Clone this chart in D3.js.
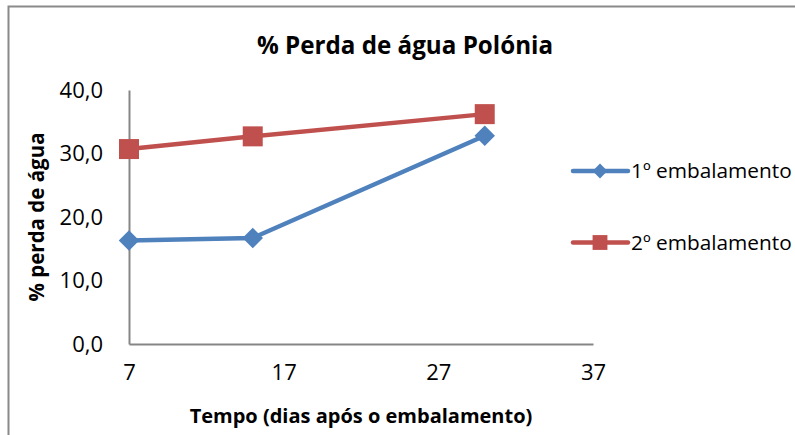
<!DOCTYPE html>
<html>
<head>
<meta charset="utf-8">
<script src="https://cdn.jsdelivr.net/npm/d3@7"></script>
<style>
  body { margin: 0; background: #fff; }
  svg { display: block; font-family: "Open Sans", sans-serif; }
  .axis path { stroke: #868686; stroke-width: 2; }
  .axis line { display: none; }
</style>
</head>
<body>
<div id="chart"></div>
<script>
  //--------------------------- DATA ---------------------------//
  const days = [7, 15, 30];
  const serie1 = [16.3, 16.7, 32.8];   // 1º embalamento
  const serie2 = [30.7, 32.7, 36.2];   // 2º embalamento
  const seriesNames = ["1º embalamento", "2º embalamento"];
  const xTicks = [7, 17, 27, 37];
  const yTicks = [0, 10, 20, 30, 40];

  //--------------------------- SVG ----------------------------//
  const W = 795, H = 435;
  const svg = d3.select("#chart").append("svg")
    .attr("width", W)
    .attr("height", H);

  // chart frame (top + left only visible)
  svg.append("path")
    .attr("d", "M8.5,440 V6.5 H795")
    .attr("fill", "none")
    .attr("stroke", "#8a8a8a")
    .attr("stroke-width", 2);

  // shrink/grow a text's font so it spans roughly the width seen in the picture
  function fit(sel, target) {
    const fs = +sel.attr("font-size");
    const w = sel.node().getComputedTextLength();
    sel.attr("font-size", (fs * target / w).toFixed(1));
    return sel;
  }

  //-------------------------- SCALES --------------------------//
  const x = d3.scaleLinear().domain([7, 37]).range([129, 593]);
  const y = d3.scaleLinear().domain([0, 40]).range([344, 90]);

  //--------------------------- AXES ---------------------------//
  const fmt = v => d3.format(".1f")(v).replace(".", ",");

  const styleTicks = g => g.selectAll("text")
    .attr("font-family", "Open Sans")
    .attr("font-size", 22)
    .attr("fill", "#000");

  svg.append("g")
    .attr("class", "axis axis-x")
    .attr("transform", "translate(0,344)")
    .call(d3.axisBottom(x).tickValues(xTicks).tickSize(0).tickPadding(20).tickSizeOuter(0))
    .call(styleTicks);

  svg.append("g")
    .attr("class", "axis axis-y")
    .attr("transform", "translate(129,0)")
    .call(d3.axisLeft(y).tickValues(yTicks).tickFormat(fmt).tickSize(0).tickPadding(26).tickSizeOuter(0))
    .call(styleTicks);

  //-------------------------- TITLES --------------------------//
  svg.append("text")
    .attr("x", 405).attr("y", 54)
    .attr("text-anchor", "middle")
    .attr("font-size", 24).attr("font-weight", "bold")
    .text("% Perda de água Polónia")
    .call(fit, 296);

  svg.append("text")
    .attr("transform", "translate(44,217) rotate(-90)")
    .attr("text-anchor", "middle")
    .attr("font-size", 20).attr("font-weight", "bold")
    .text("% perda de água")
    .call(fit, 169);

  svg.append("text")
    .attr("x", 361).attr("y", 423)
    .attr("text-anchor", "middle")
    .attr("font-size", 20).attr("font-weight", "bold")
    .text("Tempo (dias após o embalamento)")
    .call(fit, 343);

  //--------------------------- LINES --------------------------//
  const series = [
    { name: seriesNames[0], values: serie1, color: "#4F81BD", rot: 45 },
    { name: seriesNames[1], values: serie2, color: "#C0504D", rot: 0 }
  ];

  const line = d3.line()
    .x((d, i) => x(days[i]))
    .y(d => y(d));

  series.forEach(s => {
    svg.append("path")
      .attr("d", line(s.values))
      .attr("fill", "none")
      .attr("stroke", s.color)
      .attr("stroke-width", 4.5);

    svg.append("g").selectAll("path")
      .data(s.values)
      .enter()
      .append("path")
      .attr("transform", (d, i) => "translate(" + x(days[i]) + "," + y(d) + ") rotate(" + s.rot + ")")
      .attr("d", d3.symbol().type(d3.symbolSquare).size(s.rot ? 210 : 400))
      .attr("fill", s.color);
  });

  //-------------------------- LEGEND --------------------------//
  const legend = svg.append("g");
  series.forEach((s, i) => {
    const ly = 171 + i * 71.5;
    legend.append("line")
      .attr("x1", 573).attr("x2", 628)
      .attr("y1", ly).attr("y2", ly)
      .attr("stroke", s.color).attr("stroke-width", 4.5)
      .attr("stroke-linecap", "round");
    legend.append("path")
      .attr("transform", "translate(600," + ly + ") rotate(" + s.rot + ")")
      .attr("d", d3.symbol().type(d3.symbolSquare).size(s.rot ? 110 : 220))
      .attr("fill", s.color);
    legend.append("text")
      .attr("x", 631).attr("y", ly + 7)
      .attr("font-size", 20)
      .text(s.name)
      .call(fit, 161);
  });
</script>
</body>
</html>
